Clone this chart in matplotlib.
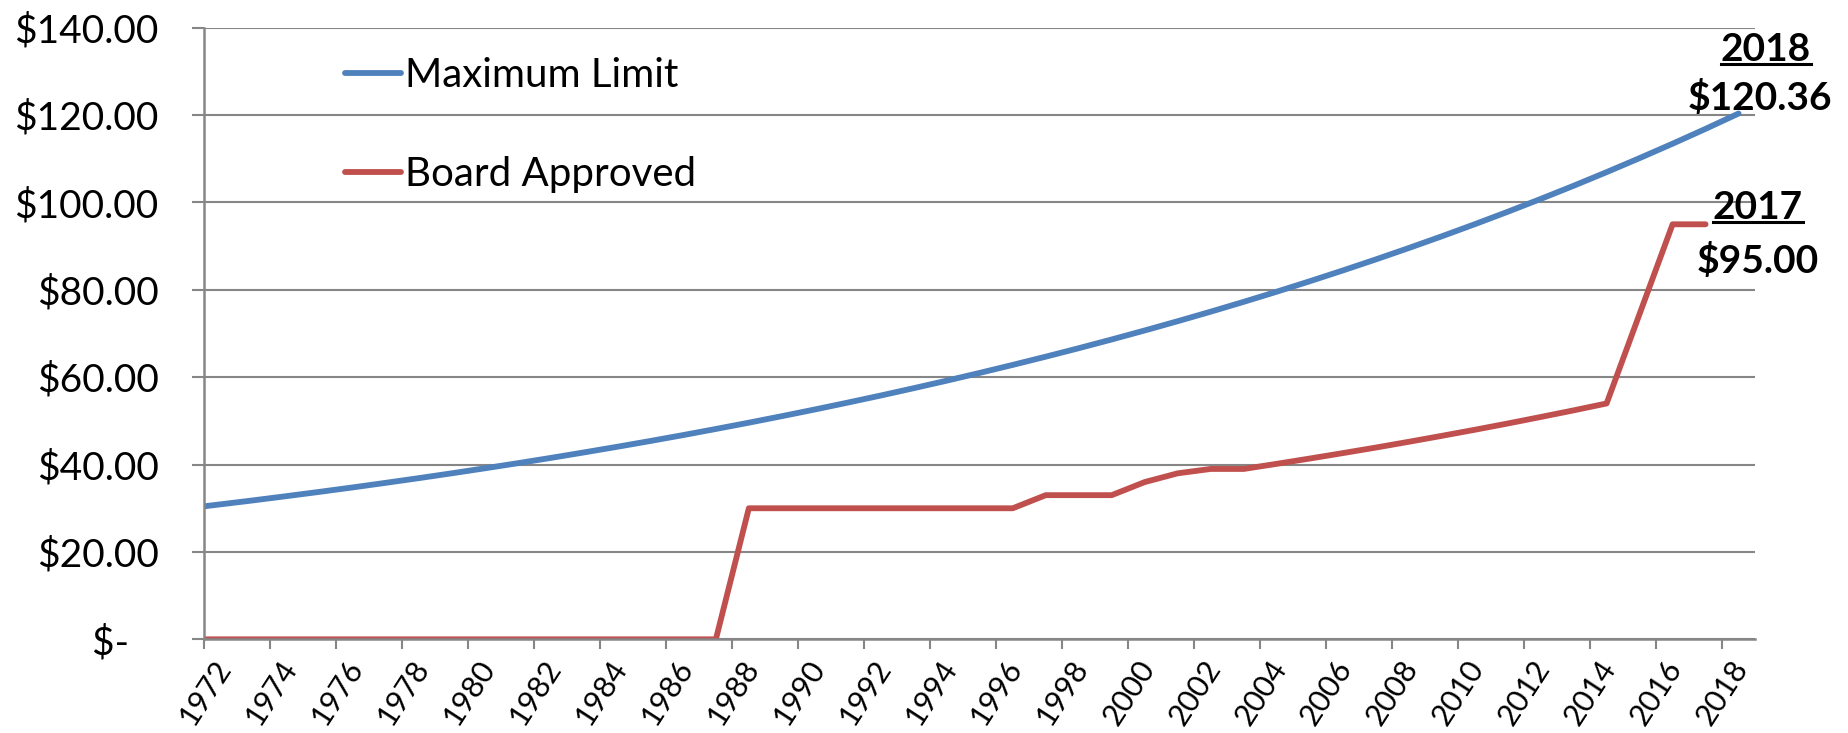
import numpy as np
import matplotlib.pyplot as plt
from matplotlib.lines import Line2D
from matplotlib.ticker import FuncFormatter

plt.rcParams['font.family'] = ['Lato', 'DejaVu Sans']

# one value per year, plotted at the middle of each year's slot
years = list(range(1971, 2019))
max_limit = [30.01, 30.91, 31.83, 32.79, 33.77, 34.78, 35.83, 36.90, 38.01, 39.15,
             40.32, 41.53, 42.78, 44.06, 45.38, 46.74, 48.15, 49.59, 51.08, 52.61,
             54.19, 55.81, 57.49, 59.21, 60.99, 62.82, 64.70, 66.64, 68.64, 70.70,
             72.82, 75.00, 77.25, 79.57, 81.96, 84.42, 86.95, 89.56, 92.24, 95.01,
             97.86, 100.80, 103.82, 106.94, 110.15, 113.45, 116.85, 120.36]
board_approved = [0, 0, 0, 0, 0, 0, 0, 0, 0, 0,
                  0, 0, 0, 0, 0, 0, 0, 30, 30, 30,
                  30, 30, 30, 30, 30, 30, 33, 33, 33, 36,
                  38, 39, 39, 40.17, 41.38, 42.62, 43.89, 45.21, 46.57, 47.96,
                  49.40, 50.89, 52.41, 53.99, 74.50, 95.00, 95.00, np.nan]
label_years = list(range(1972, 2019, 2))

BLUE = '#4F81BD'
RED = '#C0504D'
GRID = '#868686'

fig = plt.figure(figsize=(18.49, 7.33), dpi=100)
ax = fig.add_axes([0.1106, 0.1278, 0.8386, 0.8344])

x = np.array(years) + 0.5
ax.plot(x, max_limit, color=BLUE, lw=4.2, solid_capstyle='round', label='Maximum Limit')
ax.plot(x, board_approved, color=RED, lw=4.2, solid_capstyle='round', label='Board Approved')

ax.set_xlim(1972, 2019)
ax.set_ylim(0, 140)
ax.set_yticks(np.arange(0, 141, 20))
ax.yaxis.set_major_formatter(FuncFormatter(lambda v, p: '$-   ' if v == 0 else '${:,.2f}'.format(v)))
ax.yaxis.grid(True, color=GRID, lw=1.5)
ax.set_axisbelow(True)

# tick marks on the year boundaries, labels just right of them
ax.set_xticks(label_years)
ax.set_xticklabels([])
ax.set_xticks(np.array(label_years) + 0.6, minor=True)
ax.set_xticklabels([str(y) for y in label_years], minor=True, rotation=57,
                   ha='right', va='center', rotation_mode='anchor')

for s in ['top', 'right']:
    ax.spines[s].set_visible(False)
for s in ['left', 'bottom']:
    ax.spines[s].set_color(GRID)
    ax.spines[s].set_linewidth(1.8)

ax.tick_params(axis='y', length=9, width=1.5, color=GRID, labelsize=28, pad=24)
ax.tick_params(axis='x', which='major', length=7, width=1.5, color=GRID)
ax.tick_params(axis='x', which='minor', length=0, labelsize=22, pad=17)

ax.legend(loc='upper left', bbox_to_anchor=(0.0906, 0.952), frameon=False, fontsize=29,
          handlelength=1.4, handletextpad=0.08, labelspacing=1.53, borderpad=0, borderaxespad=0)

# end-of-series labels
notes = []
blue_end = max_limit[-1]
notes.append(ax.annotate(str(years[-1]), xy=(x[-1], blue_end), xytext=(27, 64),
                         textcoords='offset pixels', ha='center', va='center',
                         fontsize=28, fontweight='bold', annotation_clip=False))
ax.annotate('${:.2f}'.format(blue_end), xy=(x[-1], blue_end), xytext=(21, 16),
            textcoords='offset pixels', ha='center', va='center',
            fontsize=28, fontweight='bold', annotation_clip=False)

red_idx = max(i for i, v in enumerate(board_approved) if not np.isnan(v))
red_end = board_approved[red_idx]
notes.append(ax.annotate(str(years[red_idx]), xy=(x[red_idx], red_end), xytext=(52, 17),
                         textcoords='offset pixels', ha='center', va='center',
                         fontsize=28, fontweight='bold', annotation_clip=False))
ax.annotate('${:.2f}'.format(red_end), xy=(x[red_idx], red_end), xytext=(52, -37),
            textcoords='offset pixels', ha='center', va='center',
            fontsize=28, fontweight='bold', annotation_clip=False)

# underline the year labels
fig.canvas.draw()
renderer = fig.canvas.get_renderer()
for t in notes:
    bb = t.get_window_extent(renderer)
    fig.add_artist(Line2D([bb.x0, bb.x1], [bb.y0 + 3, bb.y0 + 3], color='black', lw=2.2,
                          transform=None))

fig.savefig('out.png', dpi=100)
